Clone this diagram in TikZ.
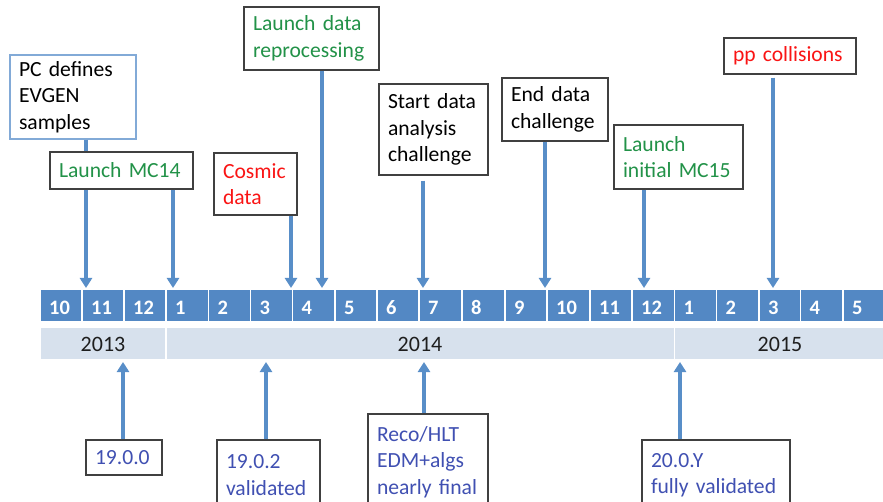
\documentclass[tikz,border=0pt]{standalone}
\usepackage{fontspec}
\setmainfont{Carlito}
\usetikzlibrary{arrows.meta}
\definecolor{barblue}{RGB}{83,136,196}
\definecolor{yearbg}{RGB}{215,225,237}
\definecolor{arrblue}{RGB}{88,142,200}
\definecolor{pcblue}{RGB}{130,170,215}
\definecolor{tgreen}{RGB}{34,146,72}
\definecolor{tred}{RGB}{250,20,20}
\definecolor{tblue}{RGB}{64,80,178}
\definecolor{ydark}{RGB}{30,30,30}
\newcommand{\fsbox}{\fontsize{21.6}{26.4}\selectfont}
\tikzset{
  box/.style={draw=black!75, line width=1.2pt, fill=white, align=left, inner xsep=9pt, inner ysep=0pt, font=\fsbox, anchor=center},
  arr/.style={draw=arrblue, line width=3.2pt, -{Triangle[width=12pt,length=10pt]}},
  mcell/.style={fill=barblue, draw=white, line width=1.5pt},
  ycell/.style={fill=yearbg, draw=white, line width=1.5pt},
  mlabel/.style={text=white, font=\fontsize{20.5}{24}\selectfont\bfseries, anchor=base west, inner sep=0pt},
  ylabel/.style={text=ydark, font=\fontsize{22}{26}\selectfont, anchor=base, inner sep=0pt}
}
\begin{document}
\begin{tikzpicture}[x=1pt,y=-1pt]
\useasboundingbox (0,0) rectangle (883,502);
\clip (0,0) rectangle (883,502);
\fill[white] (0,0) rectangle (883,502);
% month cells
\foreach \l/\r/\t [count=\i] in {40/82/10,82/124/11,124/166/12,166/208.5/1,208.5/250.5/2,250.5/292.5/3,292.5/335/4,335/377/5,377/419/6,419/462/7,462/505/8,505/547/9,547/590/10,590/632/11,632/674.5/12,674.5/716.5/1,716.5/759/2,759/800.5/3,800.5/843/4,843/885/5}{
  \path[mcell] (\l,289) rectangle (\r,322);
  \node[mlabel] (m\i) at (\l+9,315) {\t};
}
% year bar
\path[ycell] (40,327) rectangle (166,360);
\path[ycell] (166,327) rectangle (674.5,360);
\path[ycell] (674.5,327) rectangle (885,360);
\node[ylabel] (y2013) at (103,351.5) {2013};
\node[ylabel] (y2014) at (420,351.5) {2014};
\node[ylabel] (y2015) at (780,351.5) {2015};
% arrow target coordinates
\coordinate (tpc) at (86,288);
\coordinate (tmc14) at (173,288);
\coordinate (tcos) at (291,288);
\coordinate (trep) at (322,288);
\coordinate (tstart) at (423,288);
\coordinate (tend) at (545,288);
\coordinate (tmc15) at (644,288);
\coordinate (tpp) at (773,288);
\coordinate (b1900) at (123,362);
\coordinate (b1902) at (266,362);
\coordinate (breco) at (424,362);
\coordinate (b200y) at (680,362);
% top boxes
\node[box, draw=pcblue, line width=1.4pt, text width=108pt, minimum height=84pt] (pc) at (73,97) {PC defines\\EVGEN\\samples};
\draw[arr] (pc.south -| tpc) -- (tpc);
\node[box, text width=125pt, minimum height=37pt, text=tgreen] (mc14) at (121.5,170.5) {Launch MC14};
\draw[arr] (mc14.south -| tmc14) -- (tmc14);
\node[box, text width=65pt, minimum height=62pt, text=tred] (cos) at (255.5,184) {Cosmic\\data};
\draw[arr] (cos.south -| tcos) -- (tcos);
\node[box, text width=117pt, minimum height=63pt, text=tgreen] (rep) at (311.5,38.5) {Launch data\\reprocessing};
\draw[arr] (rep.south -| trep) -- (trep);
\node[box, text width=91pt, minimum height=91pt] (start) at (433.5,129.5) {Start data\\analysis\\challenge};
\draw[arr] ([yshift=-5pt]start.south -| tstart) -- (tstart);
\node[box, text width=88pt, minimum height=63pt] (end) at (555,109.5) {End data\\challenge};
\draw[arr] (end.south -| tend) -- (tend);
\node[box, text width=111pt, minimum height=64pt, text=tgreen] (mc15) at (678.5,157) {Launch\\initial MC15};
\draw[arr] (mc15.south -| tmc15) -- (tmc15);
\node[box, text width=114pt, minimum height=36pt, text=tred] (pp) at (790,56) {pp collisions};
\draw[arr] ([yshift=-3pt]pp.south -| tpp) -- (tpp);
% bottom boxes
\node[box, text width=58pt, minimum height=35pt, text=tblue] (v1900) at (124,457.5) {19.0.0};
\draw[arr] (v1900.north -| b1900) -- (b1900);
\node[box, text width=85pt, minimum height=70pt, text=tblue] (v1902) at (268.5,475) {19.0.2\\validated};
\draw[arr] (v1902.north -| b1902) -- (b1902);
\node[box, text width=102pt, minimum height=96pt, text=tblue] (reco) at (428,462) {Reco/HLT\\EDM+algs\\nearly final};
\draw[arr] (reco.north -| breco) -- (breco);
\node[box, text width=130pt, minimum height=70pt, text=tblue] (v200y) at (716,475) {20.0.Y\\fully validated};
\draw[arr] (v200y.north -| b200y) -- (b200y);
\end{tikzpicture}
\end{document}
